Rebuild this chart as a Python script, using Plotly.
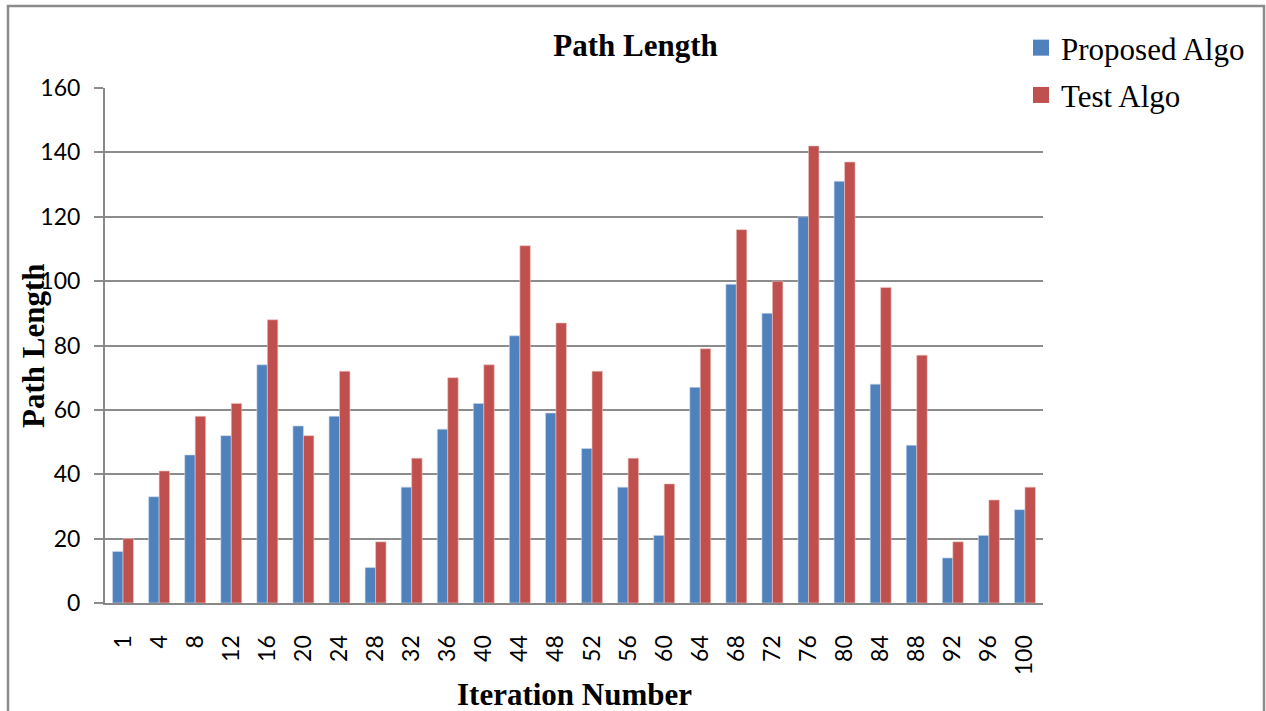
import plotly.graph_objects as go

iterations = ["1", "4", "8", "12", "16", "20", "24", "28", "32", "36", "40", "44", "48",
              "52", "56", "60", "64", "68", "72", "76", "80", "84", "88", "92", "96", "100"]
proposed = [16, 33, 46, 52, 74, 55, 58, 11, 36, 54, 62, 83, 59,
            48, 36, 21, 67, 99, 90, 120, 131, 68, 49, 14, 21, 29]
test = [20, 41, 58, 62, 88, 52, 72, 19, 45, 70, 74, 111, 87,
        72, 45, 37, 79, 116, 100, 142, 137, 98, 77, 19, 32, 36]

series_names = ["Proposed Algo", "Test Algo"]
series_colors = ["#4F81BD", "#C0504D"]
edge_colors = ["#C9D6EA", "#EBC4C3"]

serif = "Liberation Serif, Times New Roman, serif"
sans = "Lato, Liberation Sans, sans-serif"

fig = go.Figure()
for name, vals, col, edge in zip(series_names, [proposed, test], series_colors, edge_colors):
    fig.add_trace(go.Bar(x=iterations, y=vals, name=name, showlegend=False,
                         marker=dict(color=col, line=dict(color=edge, width=0.6))))
# legend entries with larger square swatches
for i, (name, col) in enumerate(zip(series_names, series_colors)):
    fig.add_trace(go.Scatter(x=[None], y=[None], name=name, mode="markers", legendgroup=f"g{i}",
                             marker=dict(symbol="square", size=16, color=col), hoverinfo="skip"))

L, R, T, B = 105, 1043, 88, 603
W, H = 1266, 711

def px_x(p):
    return (p - L) / (R - L)

def px_y(p):
    return (B - p) / (B - T)

fig.update_layout(
    width=W, height=H,
    margin=dict(l=L, r=W - R, t=T, b=H - B),
    paper_bgcolor="white", plot_bgcolor="white",
    barmode="group", bargap=0.42, bargroupgap=0.0,
    title=dict(text="<b>Path Length</b>", x=0.502, xanchor="center", y=1 - 45 / H, yanchor="middle",
               font=dict(family=serif, size=31, color="black")),
    legend=dict(x=px_x(1021), y=px_y(21), xanchor="left", yanchor="top",
                font=dict(family=serif, size=31, color="black"),
                bgcolor="rgba(0,0,0,0)", itemwidth=30, tracegroupgap=4,
                itemsizing="trace"),
    xaxis=dict(
        type="category", tickangle=-90, showgrid=False, automargin=False,
        showline=True, linecolor="#888888", linewidth=2,
        ticks="", tickfont=dict(family=sans, size=23, color="black"),
        ticklabelstandoff=21,
    ),
    yaxis=dict(
        range=[0, 160], dtick=20, showgrid=True, gridcolor="#8C8C8C", gridwidth=1.5,
        automargin=False,
        showline=True, linecolor="#888888", linewidth=2,
        ticks="outside", ticklen=9, tickcolor="#8C8C8C", tickwidth=1.5,
        tickfont=dict(family=sans, size=23, color="black"),
        ticklabelstandoff=9,
        zeroline=False,
    ),
    annotations=[
        dict(text="<b>Iteration Number</b>", xref="paper", yref="paper",
             x=px_x(574), y=px_y(694), xanchor="center", yanchor="middle", showarrow=False,
             font=dict(family=serif, size=31, color="black")),
        dict(text="<b>Path Length</b>", xref="paper", yref="paper", textangle=-90,
             x=px_x(33), y=px_y(346), xanchor="center", yanchor="middle", showarrow=False,
             font=dict(family=serif, size=31, color="black")),
    ],
    shapes=[dict(type="rect", xref="paper", yref="paper",
                 x0=px_x(8), x1=px_x(1264), y0=px_y(6), y1=px_y(730),
                 line=dict(color="#8C8C8C", width=2.5), fillcolor="rgba(0,0,0,0)", layer="below")],
)

fig.write_html("out.html")
